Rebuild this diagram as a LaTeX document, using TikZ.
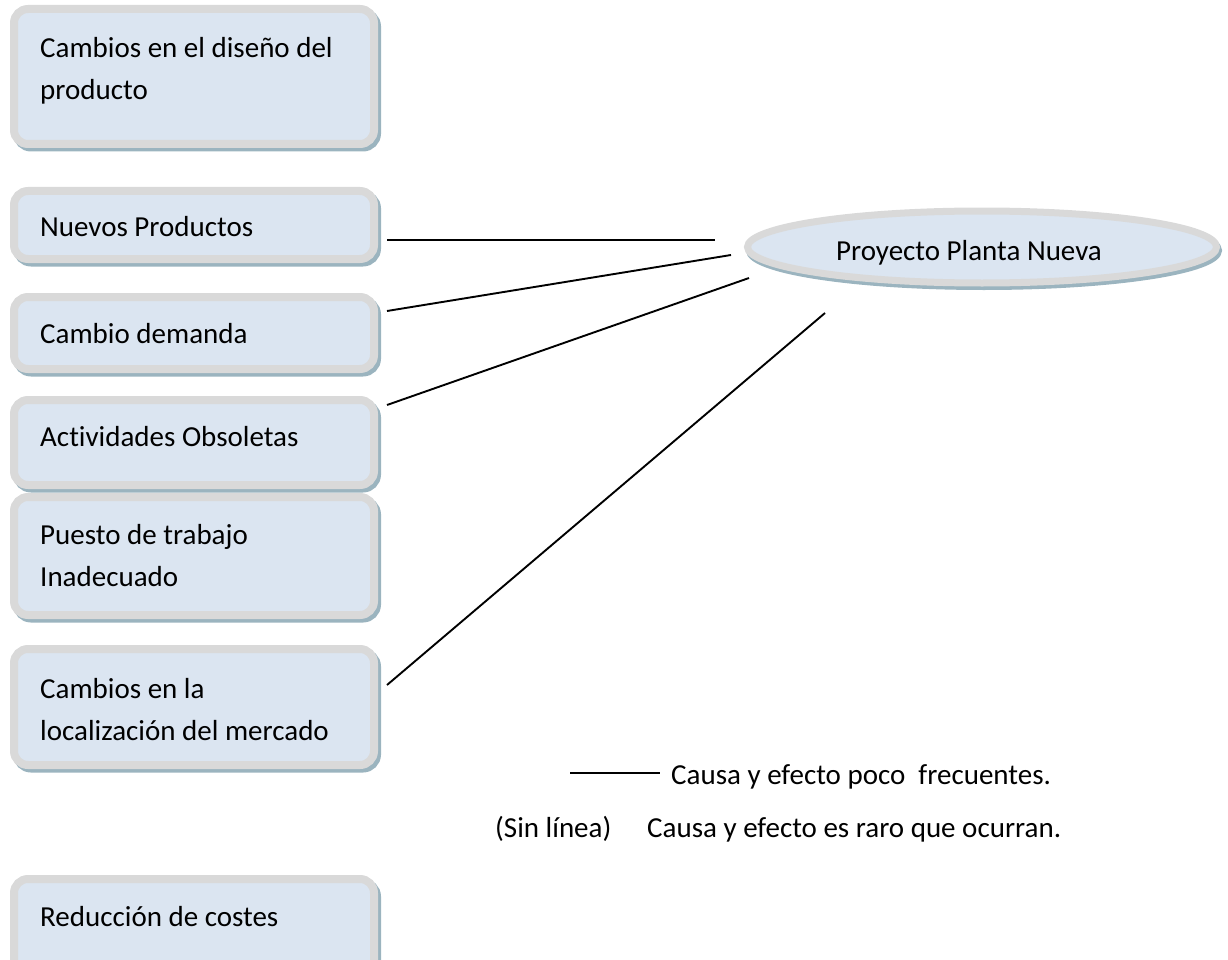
\documentclass[tikz,border=0pt]{standalone}
\usepackage{fontspec}
\setmainfont{Carlito}[Ligatures=NoCommon]
\usetikzlibrary{shapes.geometric}
\definecolor{boxfill}{HTML}{DBE5F1}
\definecolor{boxline}{HTML}{D9D9D9}
\definecolor{shadowc}{HTML}{9BB4BF}
\begin{document}
\begin{tikzpicture}[x=1pt,y=-1pt,
  box/.style={rectangle, rounded corners=14pt, line width=8pt, draw=boxline, fill=boxfill,
    minimum width=360pt, inner sep=0pt, outer sep=0pt,
    preaction={draw=shadowc, fill=shadowc, transform canvas={xshift=3pt,yshift=-3.5pt}}},
  oval/.style={ellipse, line width=7pt, draw=boxline, fill=boxfill, inner sep=0pt, outer sep=0pt,
    minimum width=469pt, minimum height=72pt,
    preaction={draw=shadowc, fill=shadowc, transform canvas={xshift=2pt,yshift=-3.5pt}}},
  lbl/.style={anchor=base west, inner sep=0pt, font=\fontsize{29}{42}\selectfont, align=left},
  link/.style={line width=1.9pt, black}]
\useasboundingbox (0,0) rectangle (1228,960);
\clip (0,0) rectangle (1228,960);

% boxes
\node[box, minimum height=135pt] (b1) at (194,76.5) {};
\node[box, minimum height=68pt]  (b2) at (194,225) {};
\node[box, minimum height=72pt]  (b3) at (194,333) {};
\node[box, minimum height=85pt]  (b4) at (194,442.5) {};
\node[box, minimum height=118pt] (b5) at (194,556) {};
\node[box, minimum height=116pt] (b6) at (194,707) {};
\node[box, minimum height=120pt] (b7) at (194,939) {};

% box texts (base = baseline of the last line)
\node[lbl] (t1) at (40,100) {Cambios en el diseño del\\producto};
\node[lbl] (t2) at (40,236) {Nuevos Productos};
\node[lbl] (t3) at (40,343) {Cambio demanda};
\node[lbl] (t4) at (40,446) {Actividades Obsoletas};
\node[lbl] (t5) at (40,586) {Puesto de trabajo\\Inadecuado};
\node[lbl] (t6) at (40,740) {Cambios en la\\localización del mercado};
\node[lbl] (t7) at (40,926) {Reducción de costes};

% ellipse
\node[oval] (p) at (982,247) {};
\node[anchor=base, inner sep=0pt, font=\fontsize{29}{42}\selectfont] (pt) at (969,260) {Proyecto Planta Nueva};

% connector end points
\coordinate (s2) at (387,240);
\coordinate (e2) at (715,240);
\coordinate (s3) at (387,311);
\coordinate (e3) at (731,255);
\coordinate (s4) at (387,405);
\coordinate (e4) at (749,278);
\coordinate (s6) at (387,685);
\coordinate (e6) at (825,313);

\draw[link] (s2) -- (e2);
\draw[link] (s3) -- (e3);
\draw[link] (s4) -- (e4);
\draw[link] (s6) -- (e6);

% legend
\coordinate (l1) at (570,773);
\coordinate (l2) at (660,773);
\draw[link] (l1) -- (l2);
\node[lbl] (leg1) at (671,784) {Causa y efecto poco\ \ frecuentes.};
\node[lbl] (leg2) at (495,837) {(Sin línea)};
\node[lbl] (leg3) at (647,837) {Causa y efecto es raro que ocurran.};
\end{tikzpicture}
\end{document}
